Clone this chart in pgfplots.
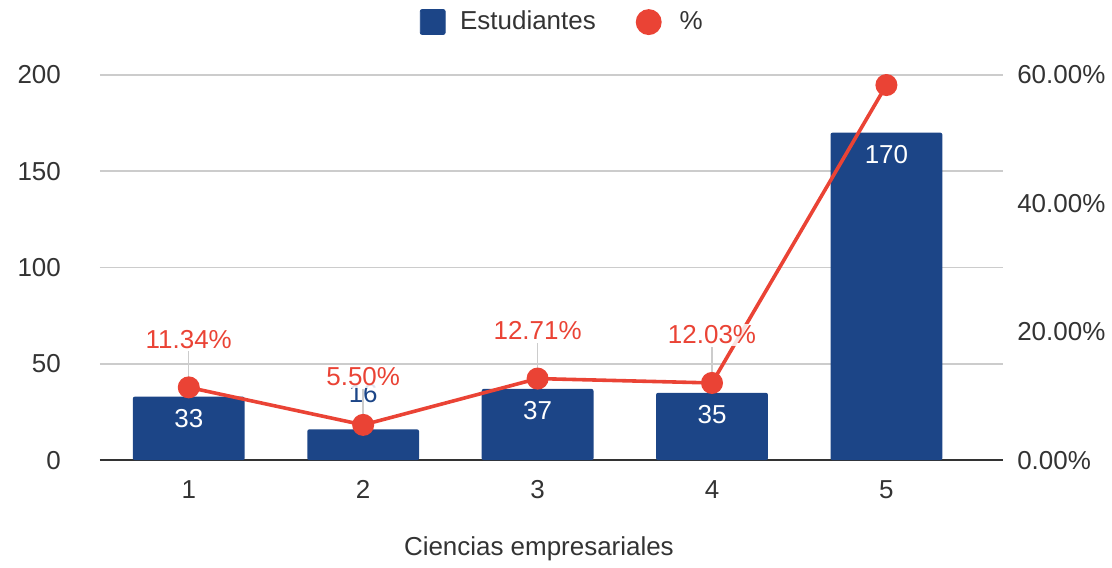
\documentclass[border=0pt]{standalone}
\usepackage{pgfplots}
\pgfplotsset{compat=1.18}
\usepackage{fontspec}
\setmainfont{Liberation Sans}
\definecolor{navy}{HTML}{1C4587}
\definecolor{redl}{HTML}{EA4335}
\definecolor{gridc}{HTML}{CCCCCC}
\definecolor{txt}{HTML}{333333}
\begin{document}
\begin{tikzpicture}
\pgfplotsset{
  every axis/.append style={
    scale only axis, width=452.5pt, height=193pt,
    at={(0,0)}, anchor=south west,
    xmin=0.49, xmax=5.67,
    font=\fontsize{13}{15}\selectfont,
    tick label style={text=txt, font=\fontsize{13}{15}\selectfont},
    major tick length=0pt,
    /pgf/number format/assume math mode=true,
  },
}
\begin{axis}[
  ymin=0, ymax=200, ytick={0,50,100,150,200},
  xtick={1,2,3,4,5},
  axis x line*=bottom, axis y line*=left,
  x axis line style={draw=txt, line width=1pt},
  y axis line style={draw=none},
  ymajorgrids, grid style={gridc, line width=0.8pt},
  yticklabel style={xshift=-16pt},
  xticklabel style={yshift=-6.5pt},
  xlabel={Ciencias empresariales},
  xlabel style={at={(axis description cs:0.486,0)}, anchor=center, yshift=-44.5pt, text=txt},
]
\addplot[ybar, bar shift=0pt, bar width=56pt, fill=navy, draw=none, rounded corners=1pt]
  coordinates {(1,33) (2,16) (3,37) (4,35) (5,170)};
% labels inside bars
\addplot[draw=none, mark=none, forget plot, nodes near coords, point meta=explicit symbolic,
  every node near coord/.append style={anchor=center, yshift=-11pt, text=white}]
  coordinates {(1,33) [33] (3,37) [37] (4,35) [35] (5,170) [170]};
% label above small bar
\addplot[draw=none, mark=none, forget plot, nodes near coords, point meta=explicit symbolic,
  every node near coord/.append style={anchor=center, yshift=18pt, text=navy}]
  coordinates {(2,16) [16]};
\end{axis}
\begin{axis}[
  ymin=0, ymax=60, ytick={0,20,40,60},
  axis x line=none, axis y line*=right,
  y axis line style={draw=none},
  yticklabel={\pgfmathprintnumber[fixed,fixed zerofill,precision=2]{\tick}\%},
  yticklabel style={xshift=3.5pt},
  legend columns=-1,
  legend style={at={(0.513,1.137)}, anchor=center, draw=none, fill=none,
    font=\fontsize{13}{15}\selectfont, text=txt,
    /tikz/every even column/.append style={column sep=18pt}},
]
\addlegendimage{legend image code/.code={\fill[navy, rounded corners=1pt] (0pt,-6.2pt) rectangle (12.5pt,6.3pt); \path[draw=none] (0pt,0pt) -- (18pt,0pt);}}
\addlegendentry{Estudiantes}
% leader lines and percent labels
\addplot[draw=none, mark=none, forget plot, nodes near coords, point meta=explicit symbolic,
  every node near coord/.append style={anchor=center, yshift=24pt, text=redl,
    fill=white, fill opacity=0.85, text opacity=1, inner sep=1pt},
  error bars/.cd, y dir=plus, y fixed=5.6, error mark=none,
  error bar style={gridc, line width=0.7pt}]
  coordinates {(1,11.34) [11.34\%] (2,5.50) [5.50\%] (3,12.71) [12.71\%] (4,12.03) [12.03\%]};
\addplot[redl, line width=1.8pt, mark=*, mark size=4.6pt, mark options={fill=redl, draw=redl},
  legend image code/.code={\fill[redl, draw=none] (6.5pt,0pt) circle (6.5pt); \path[draw=none] (0pt,0pt) -- (20pt,0pt);}]
  coordinates {(1,11.34) (2,5.50) (3,12.71) (4,12.03) (5,58.42)};
\addlegendentry{\%}
\end{axis}
\path[use as bounding box] (-50pt,-51.5pt) rectangle (506pt,230.5pt);
\end{tikzpicture}
\end{document}
